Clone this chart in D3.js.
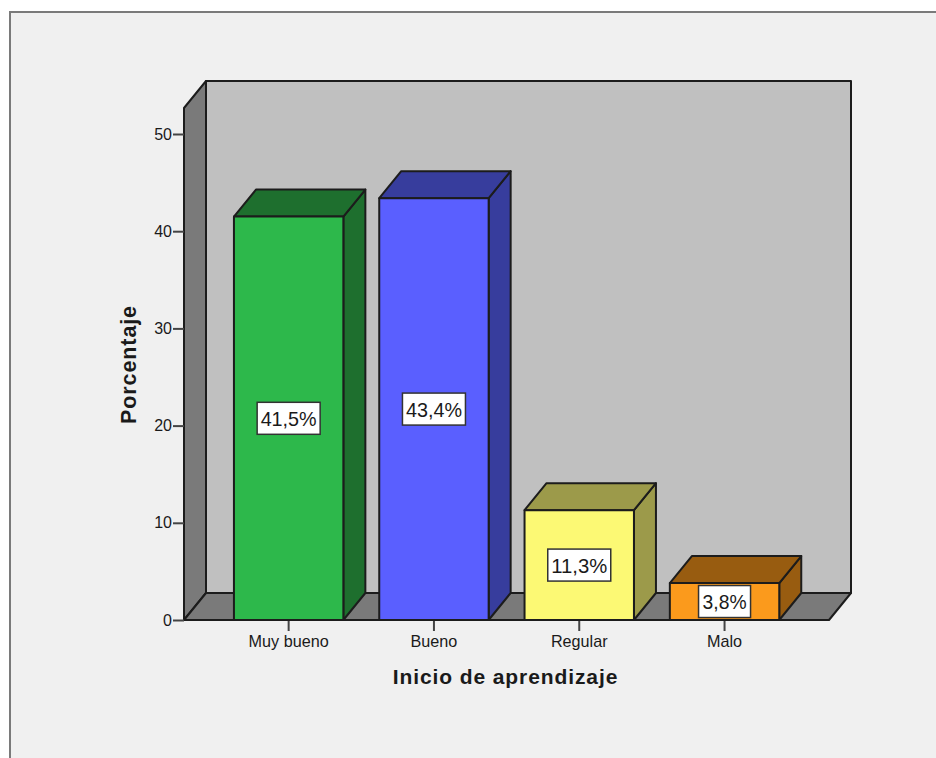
<!DOCTYPE html>
<html><head><meta charset="utf-8">
<script src="https://cdn.jsdelivr.net/npm/d3@7"></script>
<style>html,body{margin:0;padding:0;background:#fff}svg{display:block}text{font-family:"Liberation Sans",Arial,sans-serif;fill:#1a1a1a}</style>
</head><body><svg id="c" width="936" height="758"></svg>
<script>
const categories = ["Muy bueno","Bueno","Regular","Malo"];
const values = [41.5,43.4,11.3,3.8];
const labels = ["41,5%","43,4%","11,3%","3,8%"];
const frontColors = ["#2db84b","#5a5fff","#fcf974","#fb9a1c"];
const sideColors = ["#1e6f2e","#373d9d","#9c9a4a","#985c10"];
const yTicks = [0,10,20,30,40,50];

const svg = d3.select("#c");
const ln = "#1c1c1c";
svg.append("rect").attr("width",936).attr("height",758).attr("fill","#fff");
svg.append("rect").attr("x",10).attr("y",12).attr("width",926).attr("height",746).attr("fill","#f0f0f0");
svg.append("path").attr("d","M10,758V12H936").attr("fill","none").attr("stroke","#7a7a7a").attr("stroke-width",2);

const y = d3.scaleLinear().domain([0,50]).range([620,134]);
const x = d3.scaleBand().domain(categories).range([216,797.2]).paddingInner(0.247).paddingOuter(0.1235);
const dx = 22, dy = -27;
const plotLeft = 184, plotRight = 829, plotTop = 108;
const poly = pts => pts.map(p=>p.join(",")).join(" ");

// walls and floor
const g = svg.append("g").attr("stroke",ln).attr("stroke-width",2).attr("stroke-linejoin","round");
g.append("polygon").attr("points",poly([[plotLeft+dx,plotTop+dy],[plotRight+dx,plotTop+dy],[plotRight+dx,620+dy],[plotLeft+dx,620+dy]])).attr("fill","#c0c0c0");
g.append("polygon").attr("points",poly([[plotLeft,plotTop],[plotLeft+dx,plotTop+dy],[plotLeft+dx,620+dy],[plotLeft,620]])).attr("fill","#7a7a7a");
g.append("polygon").attr("points",poly([[plotLeft,620],[plotLeft+dx,620+dy],[plotRight+dx,620+dy],[plotRight,620]])).attr("fill","#7a7a7a");

// bars
const bars = svg.append("g").attr("stroke",ln).attr("stroke-width",2).attr("stroke-linejoin","round")
  .selectAll("g").data(categories).join("g");
bars.each(function(c,i){
  const s = d3.select(this), x0 = x(c), x1 = x0+x.bandwidth(), yt = y(values[i]), yb = y(0);
  s.append("polygon").attr("points",poly([[x1,yt],[x1+dx,yt+dy],[x1+dx,yb+dy],[x1,yb]])).attr("fill",sideColors[i]);
  s.append("polygon").attr("points",poly([[x0,yt],[x0+dx,yt+dy],[x1+dx,yt+dy],[x1,yt]])).attr("fill",sideColors[i]);
  s.append("rect").attr("x",x0).attr("y",yt).attr("width",x.bandwidth()).attr("height",yb-yt).attr("fill",frontColors[i]);
});

// value labels
categories.forEach((c,i)=>{
  const cx = x(c)+x.bandwidth()/2, cy = y(values[i]/2);
  const w = labels[i].length===4 ? 52 : 63;
  svg.append("rect").attr("x",cx-w/2).attr("y",cy-16).attr("width",w).attr("height",32)
    .attr("fill","#fff").attr("stroke","#333").attr("stroke-width",1.5);
  svg.append("text").attr("x",cx).attr("y",cy+7.5).attr("text-anchor","middle").attr("font-size",21)
    .attr("textLength",labels[i].length===4 ? 44 : 56).attr("lengthAdjust","spacingAndGlyphs").text(labels[i]);
});

// axes
const yAxis = d3.axisLeft(y).tickValues(yTicks).tickSize(11).tickPadding(1);
const ya = svg.append("g").attr("transform",`translate(${plotLeft},0)`).call(yAxis);
ya.select(".domain").remove();
ya.selectAll("line").attr("stroke","#444").attr("stroke-width",2);
ya.selectAll("text").attr("font-size",16).attr("fill","#1a1a1a");

const xAxis = d3.axisBottom(x).tickSize(11).tickPadding(4);
const xa = svg.append("g").attr("transform","translate(0,620)").call(xAxis);
xa.select(".domain").remove();
xa.selectAll("line").attr("stroke","#444").attr("stroke-width",2);
xa.selectAll("text").attr("font-size",16.2).attr("fill","#1a1a1a");

svg.append("line").attr("x1",plotLeft).attr("x2",plotRight).attr("y1",620).attr("y2",620).attr("stroke",ln).attr("stroke-width",2);

// titles
svg.append("text").attr("x",505.5).attr("y",684).attr("text-anchor","middle").attr("font-size",21).attr("font-weight","bold").attr("letter-spacing",0.9).text("Inicio de aprendizaje");
svg.append("text").attr("transform","translate(136,364.5) rotate(-90)").attr("text-anchor","middle").attr("font-size",21.5).attr("font-weight","bold").attr("letter-spacing",0.9).text("Porcentaje");
</script></body></html>
